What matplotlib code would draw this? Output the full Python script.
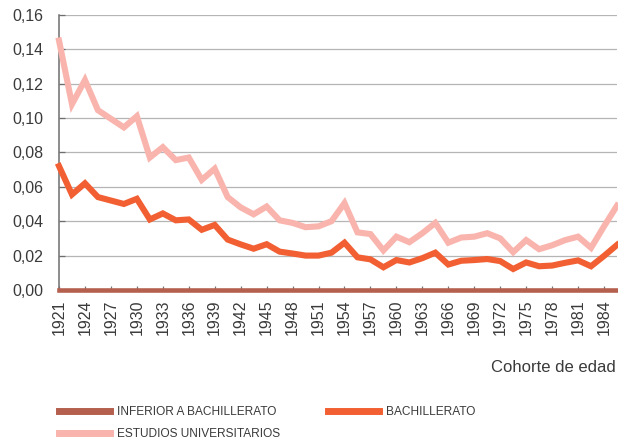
import matplotlib
matplotlib.use("Agg")
import matplotlib.pyplot as plt
from matplotlib.lines import Line2D
import numpy as np

# ---- data ----
tick_labels = ["1921", "1924", "1927", "1930", "1933", "1936", "1939", "1942",
               "1945", "1948", "1951", "1954", "1957", "1960", "1963", "1966",
               "1969", "1972", "1975", "1978", "1981", "1984"]

inferior = [0.0, 0.0, 0.0, 0.0, 0.0, 0.0, 0.0, 0.0, 0.0, 0.0, 0.0,
            0.0, 0.0, 0.0, 0.0, 0.0, 0.0, 0.0, 0.0, 0.0, 0.0, 0.0,
            0.0, 0.0, 0.0, 0.0, 0.0, 0.0, 0.0, 0.0, 0.0, 0.0, 0.0,
            0.0, 0.0, 0.0, 0.0, 0.0, 0.0, 0.0, 0.0, 0.0, 0.0, 0.0]

bachillerato = [0.072, 0.0555, 0.062, 0.054, 0.052, 0.050, 0.053, 0.041, 0.0445,
                0.0405, 0.041, 0.035, 0.0378, 0.0293, 0.0265, 0.024, 0.0266,
                0.0223, 0.0212, 0.020, 0.020, 0.0217, 0.0275, 0.019, 0.0178,
                0.0132, 0.0174, 0.016, 0.0185, 0.0217, 0.0148, 0.017, 0.0174,
                0.018, 0.0168, 0.0122, 0.016, 0.0138, 0.0142, 0.0158, 0.0172,
                0.0138, 0.0198, 0.0262]

universitarios = [0.145, 0.108, 0.122, 0.1045, 0.0995, 0.0945, 0.101, 0.077, 0.083,
                  0.0755, 0.077, 0.064, 0.0705, 0.054, 0.048, 0.044, 0.0485,
                  0.0405, 0.039, 0.0365, 0.037, 0.040, 0.0505, 0.0335, 0.0325,
                  0.023, 0.031, 0.0278, 0.033, 0.039, 0.0275, 0.0305, 0.031,
                  0.033, 0.030, 0.022, 0.029, 0.0237, 0.026, 0.029, 0.031,
                  0.0245, 0.037, 0.049]

y_ticks = [0.0, 0.02, 0.04, 0.06, 0.08, 0.10, 0.12, 0.14, 0.16]
y_tick_labels = ["0,00", "0,02", "0,04", "0,06", "0,08", "0,10", "0,12", "0,14", "0,16"]

series_names = ["INFERIOR A BACHILLERATO", "BACHILLERATO", "ESTUDIOS UNIVERSITARIOS"]
colors = ["#b55f4e", "#f25f33", "#f9b4ad"]

# ---- figure ----
plt.rcParams['font.family'] = ['Liberation Sans', 'DejaVu Sans']
W, H = 618, 444
fig = plt.figure(figsize=(W / 100, H / 100), dpi=100)
ax = fig.add_axes([59 / W, (H - 290) / H, (617 - 59) / W, (290 - 14.7) / H])

x = np.arange(len(bachillerato))
text_color = "#3a3a3a"

ax.set_ylim(0, 0.16)
ax.set_xlim(0, len(bachillerato) - 1)
ax.set_yticks(y_ticks)
ax.set_yticklabels(y_tick_labels)
ax.set_xticks(x[::2])
ax.set_xticklabels(tick_labels, rotation=90)

for yv in y_ticks[1:]:
    ax.axhline(yv, color="#b5b5b5", lw=0.9, zorder=1)

ax.plot(x, bachillerato, color=colors[1], lw=4.4, solid_joinstyle="miter",
        zorder=3, clip_on=False)
ax.plot(x, universitarios, color=colors[2], lw=4.4, solid_joinstyle="miter",
        zorder=3, clip_on=False)
ax.plot(x, inferior, color=colors[0], lw=3.3, zorder=4, clip_on=False)

for s in ["top", "right", "bottom"]:
    ax.spines[s].set_visible(False)
ax.spines["left"].set_color("#6e6e6e")
ax.spines["left"].set_linewidth(1.1)

ax.tick_params(axis="y", direction="in", length=4, width=0.9, color="#6e6e6e",
               labelsize=11.5, labelcolor=text_color, pad=11)
ax.tick_params(axis="x", direction="in", length=3, width=0.9, color="#777777",
               labelsize=11.5, labelcolor=text_color, pad=7)

fig.text(616 / W, 1 - 367 / H, "Cohorte de edad", ha="right", va="center",
         fontsize=12, color=text_color)

# legend
handles = [Line2D([], [], color=colors[0], lw=5),
           Line2D([], [], color=colors[2], lw=5),
           Line2D([], [], color=colors[1], lw=5)]
labels = [series_names[0], series_names[2], series_names[1]]
leg = fig.legend(handles, labels, ncol=2, loc="upper left",
                 bbox_to_anchor=(48 / W, 1 - 395 / H), frameon=False,
                 handlelength=4.3, handletextpad=0.55, columnspacing=4.0,
                 labelspacing=0.85, prop={"size": 8.6})
for t in leg.get_texts():
    t.set_color(text_color)

fig.savefig("out.png", dpi=100)
